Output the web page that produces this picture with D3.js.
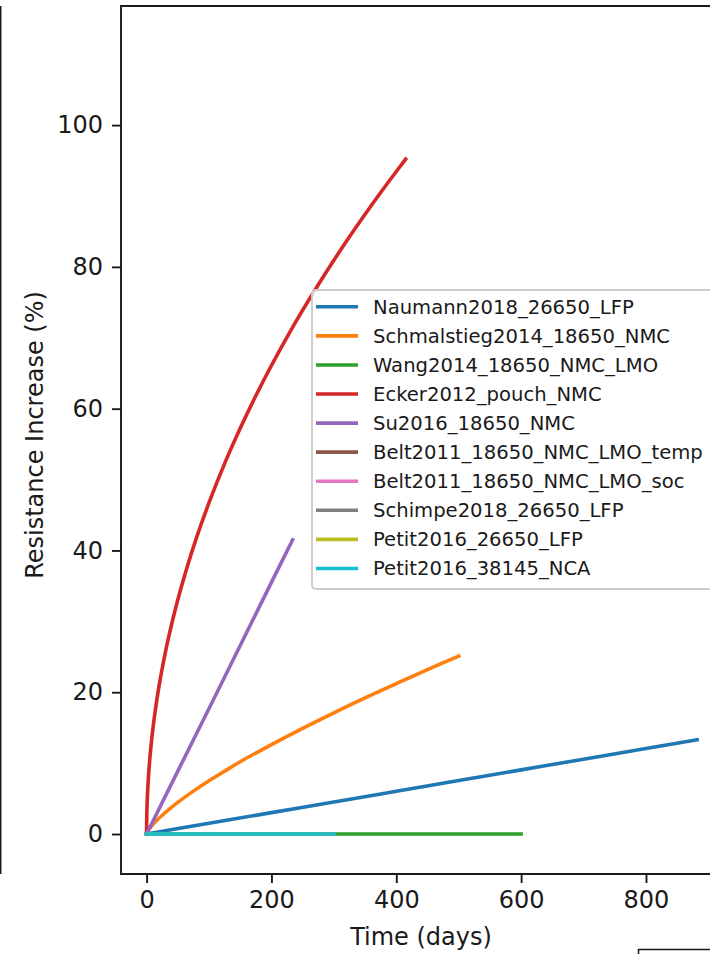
<!DOCTYPE html>
<html>
<head>
<meta charset="utf-8">
<script src="https://cdn.jsdelivr.net/npm/d3@7"></script>
<style>
  html, body { margin: 0; padding: 0; background: #fff; }
  svg { display: block; }
  text { font-family: "DejaVu Sans", sans-serif; fill: #1a1a1a; }
</style>
</head>
<body>
<svg id="chart" width="710" height="954"></svg>
<script>
// Resistance increase over calendar time for several aging models
const seriesNames = [
  "Naumann2018_26650_LFP",
  "Schmalstieg2014_18650_NMC",
  "Wang2014_18650_NMC_LMO",
  "Ecker2012_pouch_NMC",
  "Su2016_18650_NMC",
  "Belt2011_18650_NMC_LMO_temp",
  "Belt2011_18650_NMC_LMO_soc",
  "Schimpe2018_26650_LFP",
  "Petit2016_26650_LFP",
  "Petit2016_38145_NCA"
];
const seriesColors = ["#1f77b4", "#ff7f0e", "#2ca02c", "#d62728", "#9467bd",
                      "#8c564b", "#e377c2", "#7f7f7f", "#bcbd22", "#17becf"];

// time in days, resistance increase in %
const naumannDays = [0, 100, 200, 300, 400, 500, 600, 700, 800, 882];
const naumannRes  = [0, 1.51, 3.02, 4.52, 6.03, 7.54, 9.05, 10.56, 12.06, 13.3];

const schmalstiegDays = [0, 2, 5, 10, 15, 25, 35, 50, 75, 100, 125, 150, 175, 200,
                         250, 300, 350, 400, 450, 500];
const schmalstiegRes  = [0, 0.40, 0.79, 1.34, 1.81, 2.65, 3.41, 4.46, 6.05, 7.51, 8.87, 10.2, 11.42, 12.6,
                         14.9, 17.1, 19.2, 21.2, 23.2, 25.1];

const wangDays = [0, 600];
const wangRes  = [0, 0];

const eckerDays = [0, 0.1, 0.5, 1, 2, 3, 5, 7.5, 10, 15, 20, 30, 40, 50, 65, 80, 100,
                   125, 150, 175, 200, 225, 250, 275, 300, 325, 350, 375, 400, 415];
const eckerRes  = [0, 1.48, 3.30, 4.67, 6.61, 8.09, 10.45, 12.80, 14.78, 18.10, 20.90, 25.60, 29.55, 33.04, 37.67, 41.80, 46.73,
                   52.25, 57.23, 61.82, 66.09, 70.10, 73.89, 77.49, 80.94, 84.24, 87.42, 90.49, 93.46, 95.20];

const suDays = [0, 50, 100, 150, 200, 234];
const suRes  = [0, 8.87, 17.7, 26.6, 35.5, 41.5];

const beltTempDays = [0, 300];
const beltTempRes  = [0, 0];

const beltSocDays = [0, 300];
const beltSocRes  = [0, 0];

const schimpeDays = [0, 300];
const schimpeRes  = [0, 0];

const petitLfpDays = [0, 300];
const petitLfpRes  = [0, 0];

const petitNcaDays = [0, 300];
const petitNcaRes  = [0, 0];

const xTicks = [0, 200, 400, 600, 800];
const yTicks = [0, 20, 40, 60, 80, 100];

const seriesDays = [naumannDays, schmalstiegDays, wangDays, eckerDays, suDays,
                    beltTempDays, beltSocDays, schimpeDays, petitLfpDays, petitNcaDays];
const seriesRes  = [naumannRes, schmalstiegRes, wangRes, eckerRes, suRes,
                    beltTempRes, beltSocRes, schimpeRes, petitLfpRes, petitNcaRes];

const series = seriesNames.map((name, i) => ({
  name,
  color: seriesColors[i],
  points: seriesDays[i].map((t, j) => ({ t, v: seriesRes[i][j] }))
}));

const svg = d3.select("#chart");

// plot frame
const plot = { left: 121, top: 6, right: 724, bottom: 874 };

const x = d3.scaleLinear().domain([-41, 925]).range([plot.left, plot.right]);
const y = d3.scaleLinear().domain([-5.64, 116.8]).range([plot.bottom, plot.top]);

// edge of the neighbouring panel on the left
svg.append("line")
  .attr("x1", 0.5).attr("x2", 0.5)
  .attr("y1", plot.top).attr("y2", plot.bottom)
  .attr("stroke", "#1a1a1a").attr("stroke-width", 1.9);

// data lines
svg.append("clipPath").attr("id", "plotclip")
  .append("rect")
  .attr("x", plot.left).attr("y", plot.top)
  .attr("width", plot.right - plot.left).attr("height", plot.bottom - plot.top);

const line = d3.line().curve(d3.curveMonotoneX).x(d => x(d.t)).y(d => y(d.v));

svg.append("g").attr("clip-path", "url(#plotclip)")
  .selectAll("path")
  .data(series)
  .join("path")
  .attr("d", d => line(d.points))
  .attr("fill", "none")
  .attr("stroke", d => d.color)
  .attr("stroke-width", 3.6)
  .attr("stroke-linecap", "square")
  .attr("stroke-linejoin", "round");

// axes
const xAxis = svg.append("g")
  .attr("transform", `translate(0,${plot.bottom})`)
  .call(d3.axisBottom(x).tickValues(xTicks).tickFormat(d3.format("d"))
    .tickSize(9).tickPadding(8).tickSizeOuter(0));
xAxis.select(".domain").remove();

const yAxis = svg.append("g")
  .attr("transform", `translate(${plot.left},0)`)
  .call(d3.axisLeft(y).tickValues(yTicks).tickFormat(d3.format("d"))
    .tickSize(9).tickPadding(9).tickSizeOuter(0));
yAxis.select(".domain").remove();

svg.selectAll(".tick line").attr("stroke", "#1a1a1a").attr("stroke-width", 1.9);
svg.selectAll(".tick text")
  .style("font-family", "'DejaVu Sans', sans-serif")
  .style("font-size", "24px")
  .attr("fill", "#1a1a1a");

// spines
svg.append("path")
  .attr("d", `M${plot.left},${plot.top}V${plot.bottom}H${plot.right}`)
  .attr("fill", "none").attr("stroke", "#1a1a1a").attr("stroke-width", 1.9)
  .attr("stroke-linecap", "square");
svg.append("line")
  .attr("x1", plot.left).attr("x2", plot.right)
  .attr("y1", plot.top).attr("y2", plot.top)
  .attr("stroke", "#1a1a1a").attr("stroke-width", 1.9);

// axis titles
svg.append("text")
  .attr("x", 421).attr("y", 945)
  .attr("text-anchor", "middle")
  .style("font-size", "24px")
  .text("Time (days)");

svg.append("text")
  .attr("transform", "translate(43,435) rotate(-90)")
  .attr("text-anchor", "middle")
  .style("font-size", "24px")
  .text("Resistance Increase (%)");

// legend
const legend = svg.append("g");
legend.append("rect")
  .attr("x", 312).attr("y", 290)
  .attr("width", 420).attr("height", 299)
  .attr("rx", 4).attr("ry", 4)
  .attr("fill", "#fff").attr("fill-opacity", 0.8)
  .attr("stroke", "#cccccc").attr("stroke-width", 1.9);

const rowY = i => 306.8 + i * 29.07;
const rows = legend.selectAll("g.row")
  .data(series)
  .join("g")
  .attr("class", "row")
  .attr("transform", (d, i) => `translate(0,${rowY(i)})`);
rows.append("line")
  .attr("x1", 316).attr("x2", 358)
  .attr("stroke", d => d.color).attr("stroke-width", 3.6);
rows.append("text")
  .attr("x", 373).attr("y", 7)
  .style("font-size", "19.6px")
  .text(d => d.name);

// corner of a box sitting below the axes
svg.append("rect")
  .attr("x", 638.5).attr("y", 949.5)
  .attr("width", 120).attr("height", 40)
  .attr("fill", "#fff").attr("stroke", "#1a1a1a").attr("stroke-width", 1.5);
</script>
</body>
</html>
